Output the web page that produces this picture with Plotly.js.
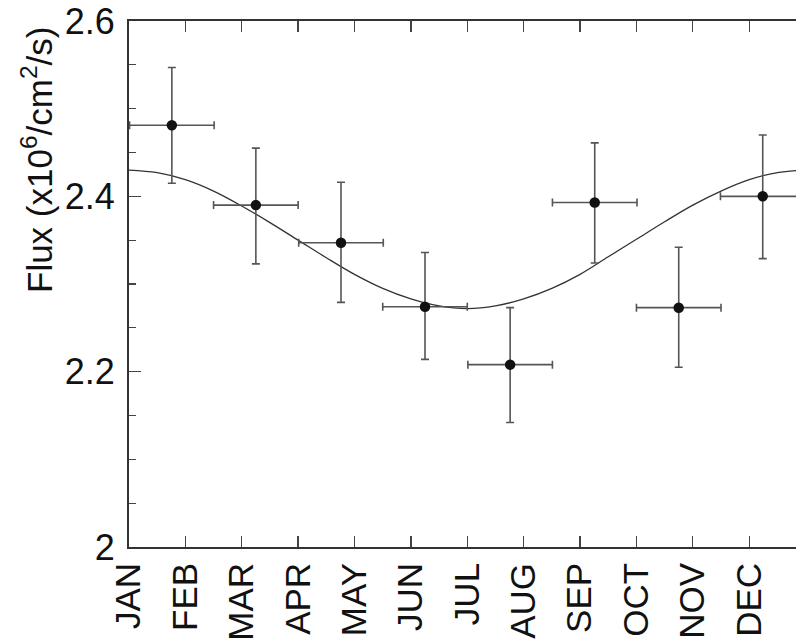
<!DOCTYPE html>
<html>
<head>
<meta charset="utf-8">
<script src="https://cdn.plot.ly/plotly-3.0.1.min.js"></script>
<style>html,body{margin:0;padding:0;background:#fff;}#chart{width:796px;height:639px;}</style>
</head>
<body>
<div id="chart"></div>
<script>
// Month tick labels
const months = ['JAN','FEB','MAR','APR','MAY','JUN','JUL','AUG','SEP','OCT','NOV','DEC'];
const monthPos = [0,1,2,3,4,5,6,7,8,9,10,11];

// Measured flux points (x in months from Jan start)
const binCenter = [0.76, 2.25, 3.76, 5.25, 6.76, 8.26, 9.75, 11.24];
const binHalfWidth = [0.75, 0.75, 0.75, 0.75, 0.75, 0.75, 0.75, 0.75];
const flux = [2.481, 2.390, 2.347, 2.274, 2.208, 2.393, 2.273, 2.400];
const fluxErrUp = [0.066, 0.065, 0.069, 0.062, 0.065, 0.068, 0.069, 0.070];
const fluxErrDown = [0.066, 0.067, 0.068, 0.060, 0.066, 0.069, 0.068, 0.071];

// Fitted curve
const curveX = [0,0.5,1,1.5,2,2.5,3,3.5,4,4.5,5,5.5,6,6.5,7,7.5,8,8.5,9,9.5,10,10.5,11,11.5,12];
const curveY = [2.430,2.427,2.419,2.406,2.389,2.370,2.350,2.330,2.311,2.295,2.283,2.275,2.272,2.275,2.283,2.295,2.311,2.331,2.351,2.371,2.390,2.406,2.419,2.427,2.430];

// Y tick labels
const yTickVals = [2.0, 2.2, 2.4, 2.6];
const yTickText = ['2', '2.2', '2.4', '2.6'];

const font = 'Liberation Sans, Arial, Helvetica, sans-serif';

const traces = [
  {
    x: curveX, y: curveY, type: 'scatter', mode: 'lines',
    line: {color: '#333333', width: 1.3, shape: 'spline'},
    hoverinfo: 'skip', showlegend: false
  },
  {
    x: binCenter, y: flux, type: 'scatter', mode: 'markers',
    marker: {color: '#111111', size: 10.5},
    error_y: {type: 'data', array: fluxErrUp, arrayminus: fluxErrDown, symmetric: false,
              color: '#555555', thickness: 1.6, width: 4},
    error_x: {type: 'data', array: binHalfWidth, color: '#555555', thickness: 1.6, width: 4},
    showlegend: false
  }
];

const layout = {
  width: 796, height: 639,
  margin: {l: 129, r: 0, t: 21, b: 92},
  paper_bgcolor: '#ffffff', plot_bgcolor: '#ffffff',
  font: {family: font, color: '#111111'},
  showlegend: false,
  xaxis: {
    range: [0, 11.83],
    tickvals: monthPos, ticktext: months,
    tickangle: -90,
    ticks: 'inside', ticklen: 11, tickwidth: 1.3, tickcolor: '#444444',
    showline: true, linecolor: '#333333', linewidth: 1.9,
    mirror: 'ticks',
    showgrid: false, zeroline: false,
    tickfont: {size: 35, family: font, color: '#111111'}
  },
  yaxis: {
    range: [2.0, 2.6],
    tickvals: yTickVals, ticktext: yTickText,
    ticks: 'inside', ticklen: 12, tickwidth: 1.3, tickcolor: '#444444',
    minor: {dtick: 0.05, tick0: 2.0, ticks: 'inside', ticklen: 7, tickwidth: 1.3, tickcolor: '#444444', showgrid: false},
    showline: true, linecolor: '#333333', linewidth: 1.9,
    mirror: false,
    showgrid: false, zeroline: false,
    ticklabelstandoff: 5,
    tickfont: {size: 36, family: font, color: '#111111'}
  },
  annotations: [{
    text: 'Flux (x10<sup>6</sup>/cm<sup>2</sup>/s)',
    xref: 'paper', yref: 'paper',
    x: (37 - 129) / 667, y: 1 - (160 - 21) / 526,
    xanchor: 'center', yanchor: 'middle',
    textangle: -90, showarrow: false,
    font: {size: 35, family: font, color: '#111111'}
  }]
};

Plotly.newPlot('chart', traces, layout, {displayModeBar: false, staticPlot: true});
</script>
</body>
</html>
